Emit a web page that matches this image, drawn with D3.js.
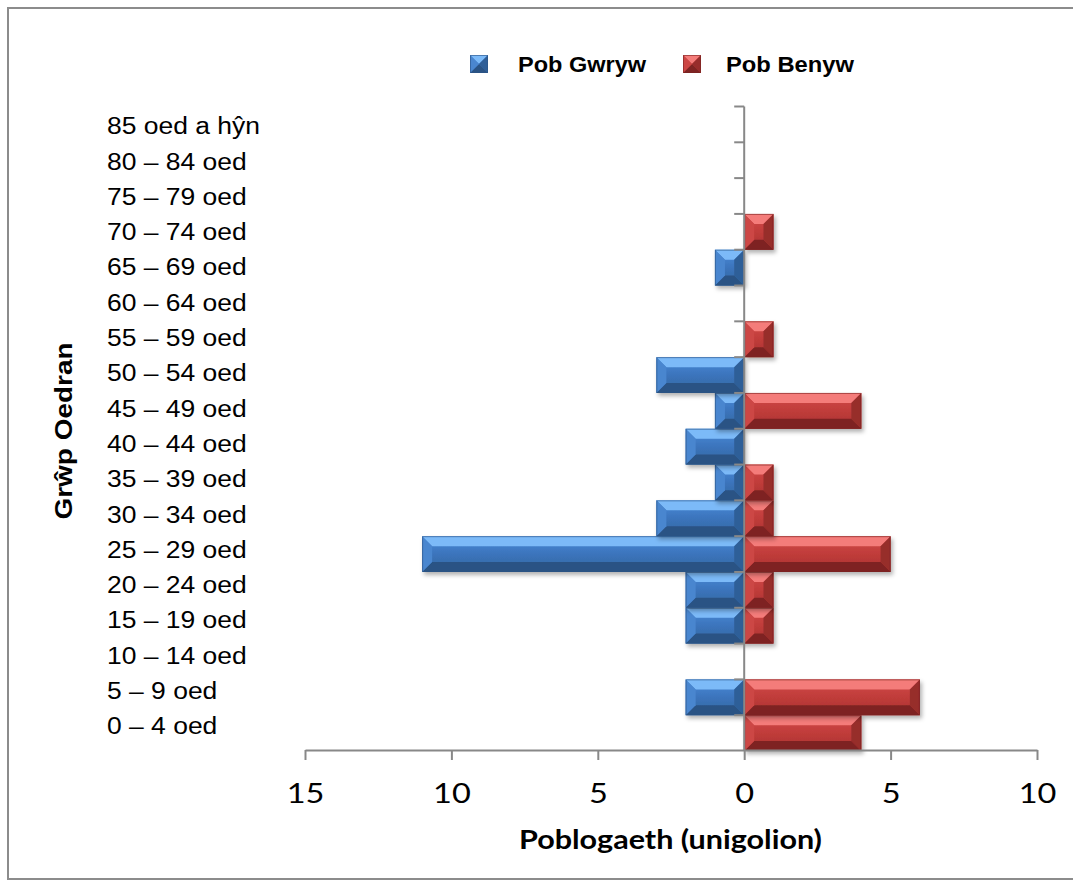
<!DOCTYPE html>
<html><head><meta charset="utf-8">
<script src="https://cdn.jsdelivr.net/npm/d3@7/dist/d3.min.js"></script>
<style>body{margin:0;background:#fff}svg{display:block}</style>
</head><body>
<svg id="chart" width="1073" height="887"></svg>
<script>
// ---- data ----
const categories = ["0 – 4 oed","5 – 9 oed","10 – 14 oed","15 – 19 oed","20 – 24 oed","25 – 29 oed","30 – 34 oed","35 – 39 oed","40 – 44 oed","45 – 49 oed","50 – 54 oed","55 – 59 oed","60 – 64 oed","65 – 69 oed","70 – 74 oed","75 – 79 oed","80 – 84 oed","85 oed a hŷn"];
const maleValues   = [0,2,0,2,2,11,3,1,2,1,3,0,0,1,0,0,0,0];
const femaleValues = [4,6,0,1,1,5,1,1,0,4,0,1,0,0,1,0,0,0];
const seriesNames = ["Pob Gwryw","Pob Benyw"];
const xTickValues = [-15,-10,-5,0,5,10];
const xTitle = "Poblogaeth (unigolion)";
const yTitle = "Grŵp Oedran";

// ---- setup ----
const svg = d3.select("#chart");
const palette = {
  blue: {face:["#4c8cda","#3b74bc","#34679f"], top:"#7cbaf8", bottom:"#2a5384", left:"#4a86cf", right:"#2f5f98", stroke:"#2b5486"},
  red:  {face:["#d24c4a","#c03c3a","#a93331"], top:"#f47c7a", bottom:"#7e2423", left:"#cc4644", right:"#972d2c", stroke:"#7a2322"}
};

const defs = svg.append("defs");
const sh = defs.append("filter").attr("id","shadow").attr("x","-10%").attr("y","-20%").attr("width","130%").attr("height","160%");
sh.append("feDropShadow").attr("dx",2).attr("dy",3).attr("stdDeviation",2).attr("flood-color","#000").attr("flood-opacity",0.3);
Object.entries(palette).forEach(([k,p])=>{
  const lg = defs.append("linearGradient").attr("id","g-"+k).attr("x1",0).attr("y1",0).attr("x2",0).attr("y2",1);
  lg.append("stop").attr("offset","0%").attr("stop-color",p.face[0]);
  lg.append("stop").attr("offset","50%").attr("stop-color",p.face[1]);
  lg.append("stop").attr("offset","100%").attr("stop-color",p.face[2]);
});

// frame
svg.append("rect").attr("x",8).attr("y",8).attr("width",1070).attr("height",871)
  .attr("fill","none").attr("stroke","#8c8c8c").attr("stroke-width",2);

const x = d3.scaleLinear().domain([-15,10]).range([305,1037]);
const yBand = d3.scaleBand().domain(categories.slice().reverse()).range([106.5,751]).padding(0);
const yLabel = d3.scalePoint().domain(categories.slice().reverse()).range([126,726]);

function bevelBar(g, x0, x1, y0, y1, p, key, bev){
  if (x1 - x0 < 0.5) return;
  const b = Math.min(bev, (x1-x0)/2, (y1-y0)/2);
  const gg = g.append("g").attr("filter","url(#shadow)");
  gg.append("rect").attr("x",x0).attr("y",y0).attr("width",x1-x0).attr("height",y1-y0).attr("fill","url(#g-"+key+")");
  const poly = (pts, fill) => gg.append("polygon").attr("points", pts.map(q=>q.join(",")).join(" ")).attr("fill",fill);
  poly([[x0,y0],[x1,y0],[x1-b,y0+b],[x0+b,y0+b]], p.top);
  poly([[x0,y1],[x1,y1],[x1-b,y1-b],[x0+b,y1-b]], p.bottom);
  poly([[x0,y0],[x0+b,y0+b],[x0+b,y1-b],[x0,y1]], p.left);
  poly([[x1,y0],[x1-b,y0+b],[x1-b,y1-b],[x1,y1]], p.right);
  gg.append("rect").attr("x",x0+0.5).attr("y",y0+0.5).attr("width",x1-x0-1).attr("height",y1-y0-1)
    .attr("fill","none").attr("stroke",p.stroke).attr("stroke-width",1).attr("stroke-opacity",0.6);
}

// bars
const barsG = svg.append("g");
categories.forEach((c,i)=>{
  const y0 = yBand(c), y1 = y0 + yBand.bandwidth();
  bevelBar(barsG, x(-maleValues[i]), x(0), y0, y1, palette.blue, "blue", 10);
  bevelBar(barsG, x(0), x(femaleValues[i]), y0, y1, palette.red, "red", 10);
});

// vertical axis with ticks at band boundaries
const axisColor = "#888888";
const vAxis = svg.append("g");
const bounds = yBand.domain().map(d=>yBand(d)).concat([yBand.range()[1]]);
vAxis.append("line").attr("x1",x(0)).attr("x2",x(0)).attr("y1",bounds[0]).attr("y2",750)
  .attr("stroke",axisColor).attr("stroke-width",2);
vAxis.selectAll("line.t").data(bounds.slice(0,-1)).join("line").attr("class","t")
  .attr("x1",x(0)-10).attr("x2",x(0)).attr("y1",d=>d).attr("y2",d=>d)
  .attr("stroke",axisColor).attr("stroke-width",2);

// bottom axis
const xAxis = d3.axisBottom(x).tickValues(xTickValues).tickFormat(d=>Math.abs(d)).tickSize(10).tickSizeOuter(0);
const xg = svg.append("g").attr("transform","translate(0,750)").call(xAxis);
xg.select(".domain").attr("stroke",axisColor).attr("stroke-width",2);
xg.selectAll(".tick line").attr("stroke",axisColor).attr("stroke-width",2);
xg.selectAll(".tick text").attr("y",53).attr("dy",0).attr("fill","#000")
  .style("font-family","Lato, 'Open Sans', sans-serif").style("font-size","26px");
xg.selectAll(".tick text").each(function(){ const l=this.getComputedTextLength(); d3.select(this).attr("textLength",l*1.25).attr("lengthAdjust","spacingAndGlyphs"); });

// category labels
const labG = svg.append("g");
labG.selectAll("text").data(categories).join("text")
  .attr("x",107).attr("y",d=>yLabel(d)).attr("dy","0.36em")
  .style("font-family","'Liberation Sans', Arial, sans-serif").style("font-size","23px").attr("fill","#000")
  .text(d=>d)
  .each(function(){ const l=this.getComputedTextLength(); d3.select(this).attr("textLength",l*1.15).attr("lengthAdjust","spacingAndGlyphs"); });

// axis titles
svg.append("text").attr("x",670.5).attr("y",849).attr("text-anchor","middle")
  .style("font-family","Lato, 'Open Sans', sans-serif").style("font-weight","bold").style("font-size","27px")
  .attr("textLength",303).attr("lengthAdjust","spacingAndGlyphs").text(xTitle);
svg.append("text").attr("transform","translate(72,431) rotate(-90)").attr("text-anchor","middle")
  .style("font-family","'Liberation Sans', Arial, sans-serif").style("font-weight","bold").style("font-size","24px")
  .attr("textLength",177).attr("lengthAdjust","spacingAndGlyphs").text(yTitle);

// legend
const legendX = [470, 683];
const legendTextX = [518, 726];
const legendKeys = ["blue","red"];
seriesNames.forEach((n,i)=>{
  const lg = svg.append("g");
  bevelBar(lg, legendX[i], legendX[i]+18, 55, 73, palette[legendKeys[i]], legendKeys[i], 9);
  lg.select("g").attr("filter",null);
  lg.append("text").attr("x",legendTextX[i]).attr("y",64).attr("dy","0.36em")
    .style("font-family","'Liberation Sans', Arial, sans-serif").style("font-weight","bold").style("font-size","22px")
    .attr("textLength",128).attr("lengthAdjust","spacingAndGlyphs").text(n);
});
</script>
</body></html>
